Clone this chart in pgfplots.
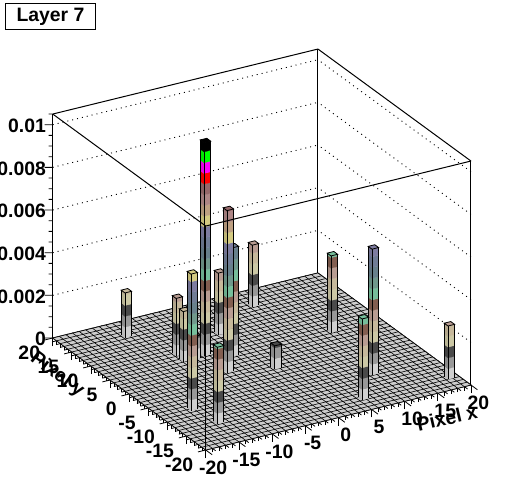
\documentclass[border=0pt]{standalone}
\usepackage{fontspec}
\setmainfont{Liberation Sans}
\usepackage{pgfplots}
\pgfplotsset{compat=1.18}
\definecolor{lev0}{RGB}{208,208,208}
\definecolor{lev1}{RGB}{152,152,152}
\definecolor{lev2}{RGB}{74,74,74}
\definecolor{lev3}{RGB}{204,200,165}
\definecolor{lev4}{RGB}{198,184,155}
\definecolor{lev5}{RGB}{184,156,146}
\definecolor{lev6}{RGB}{130,94,80}
\definecolor{lev7}{RGB}{118,190,155}
\definecolor{lev8}{RGB}{112,152,140}
\definecolor{lev9}{RGB}{104,128,140}
\definecolor{lev10}{RGB}{112,124,150}
\definecolor{lev11}{RGB}{126,124,160}
\definecolor{lev12}{RGB}{212,202,130}
\definecolor{lev13}{RGB}{190,160,130}
\definecolor{lev14}{RGB}{174,134,134}
\definecolor{lev15}{RGB}{150,104,106}
\definecolor{lev16}{RGB}{255,0,0}
\definecolor{lev17}{RGB}{255,0,255}
\definecolor{lev18}{RGB}{0,255,0}
\definecolor{lev19}{RGB}{0,0,0}
\definecolor{floorgray}{RGB}{205,205,205}
\newcommand\legobar[3]{%
  \pgfmathsetmacro\xa{#1-0.5}\pgfmathsetmacro\xb{#1+0.5}%
  \pgfmathsetmacro\ya{#2-0.5}\pgfmathsetmacro\yb{#2+0.5}%
  \pgfmathtruncatemacro\nb{floor(#3/0.0005-0.001)}%
  \pgfplotsforeachungrouped \i in {0,...,\nb}{%
    \pgfmathsetmacro\za{\i*0.0005}%
    \pgfmathsetmacro\zb{min(\za+0.0005,#3)}%
    \edef\cmd{\noexpand\addplot3[fill=lev\i!90!black,draw=lev\i!90!black,line width=0.1pt] coordinates {(\xa,\ya,\za)(\xa,\yb,\za)(\xa,\yb,\zb)(\xa,\ya,\zb)} -- cycle;
      \noexpand\addplot3[fill=lev\i,draw=lev\i,line width=0.1pt] coordinates {(\xa,\ya,\za)(\xb,\ya,\za)(\xb,\ya,\zb)(\xa,\ya,\zb)} -- cycle;}%
    \cmd
  }%
  \edef\cmd{\noexpand\addplot3[fill=lev\nb,draw=black,line width=0.4pt] coordinates {(\xa,\ya,#3)(\xb,\ya,#3)(\xb,\yb,#3)(\xa,\yb,#3)} -- cycle;
    \noexpand\addplot3[black,line width=0.4pt] coordinates {(\xa,\yb,0)(\xa,\yb,#3)};
    \noexpand\addplot3[black,line width=0.4pt] coordinates {(\xa,\ya,0)(\xa,\ya,#3)};
    \noexpand\addplot3[black,line width=0.4pt] coordinates {(\xb,\ya,0)(\xb,\ya,#3)};}%
  \cmd
}
\begin{document}
\begin{tikzpicture}[x=1pt,y=1pt]
\path[use as bounding box] (0,0) rectangle (262,250);
\begin{axis}[
  at={(130.925pt,69.25pt)}, anchor=origin,
  x={(3.315pt,0.8125pt)}, y={(-1.9125pt,1.4pt)}, z={(0pt,10665pt)},
  xmin=-20,xmax=20,ymin=-20,ymax=20,zmin=0,zmax=0.0105,
  clip=false,
  axis line style={line width=0.5pt},
  xtick={-20,-15,...,20}, ytick={-20,-15,...,20},
  ztick={0,0.002,0.004,0.006,0.008,0.01},
  xtick pos=left, ytick pos=left, ztick pos=left,
  minor x tick num=4, minor y tick num=4, minor z tick num=3,
  major tick length=4pt, minor tick length=2pt,
  tick align=outside, tick style={black,line width=0.4pt},
  ztick style={draw=none},
  scaled z ticks=false,
  zmajorgrids,
  major grid style={black,line width=0.45pt,dash pattern=on 0.5pt off 2pt},
  /pgf/number format/assume math mode=true,
  /pgf/number format/fixed,
  /pgf/number format/precision=3,
  ticklabel style={font=\fontsize{9.7}{10}\selectfont\bfseries,inner sep=0pt},
  xticklabel style={anchor=center,xshift=0.5pt,yshift=-6.5pt},
  yticklabel style={anchor=east,xshift=-2.25pt,yshift=-6.5pt},
  zticklabel style={anchor=east,yshift=-3pt},
  xlabel={Pixel x}, ylabel={Pixel y},
  every axis x label/.style={at={(axis cs:12.2,-27.26,0)},anchor=center,rotate=13,font=\fontsize{9.7}{10}\selectfont\bfseries},
  every axis y label/.style={at={(axis cs:-25.2,9.82,0)},anchor=center,rotate=-37,font=\fontsize{9.7}{10}\selectfont\bfseries},
]
\addplot3[fill=floorgray,draw=none] coordinates {(-20,-20,0)(20,-20,0)(20,20,0)(-20,20,0)} -- cycle;
\pgfplotsinvokeforeach{-20,...,20}{
  \addplot3[black,line width=0.3pt] coordinates {(#1,-20,0)(#1,20,0)};
  \addplot3[black,line width=0.3pt] coordinates {(-20,#1,0)(20,#1,0)};
}
% horizontal z ticks on the left edge
\pgfplotsinvokeforeach{0,0.002,0.004,0.006,0.008,0.01}{
  \addplot3[black,line width=0.4pt] coordinates {(-20,20,#1)(-20.904,20.525,#1)};
}
\pgfplotsinvokeforeach{0.0005,0.001,0.0015,0.0025,0.003,0.0035,0.0045,0.005,0.0055,0.0065,0.007,0.0075,0.0085,0.009,0.0095,0.0105}{
  \addplot3[black,line width=0.4pt] coordinates {(-20,20,#1)(-20.452,20.262,#1)};
}
% bars: x, y, height (back to front)
\legobar{7.8}{15.7}{0.0029}
\legobar{12.76}{3.67}{0.0036}
\legobar{-0.37}{10.46}{0.0029}
\legobar{-11.3}{15.84}{0.0021}
\legobar{-8.35}{7.6}{0.0027}
\legobar{-5.19}{5.76}{0.01}
\legobar{-2.13}{3.74}{0.0051}
\legobar{-6.93}{5.35}{0.0011}
\legobar{-8.44}{5.6}{0.00235}
\legobar{0.75}{-2.43}{0.0011}
\legobar{-5.17}{-0.21}{0.0076}
\legobar{10.86}{-10.34}{0.0059}
\legobar{18.78}{-16.47}{0.0025}
\legobar{5.87}{-16.37}{0.0038}
\legobar{-15.1}{-8}{0.0064}
\legobar{-14.2}{-13.3}{0.0036}
% front edges of the box
\addplot3[black,line width=0.5pt] coordinates {(-20,20,0.0105)(-20,-20,0.0105)(20,-20,0.0105)};
\addplot3[black,line width=0.35pt] coordinates {(-20,-20,0)(-20,-20,0.0105)};
\addplot3[black,line width=0.5pt] coordinates {(20,-20,0)(20,-20,0.0105)};
\end{axis}
\node[draw=black,fill=white,line width=0.5pt,anchor=north west,minimum width=45pt,minimum height=13pt,inner sep=0pt,font=\fontsize{9.7}{10}\selectfont\bfseries] at (2.5,248.5) {Layer 7};
\end{tikzpicture}
\end{document}
